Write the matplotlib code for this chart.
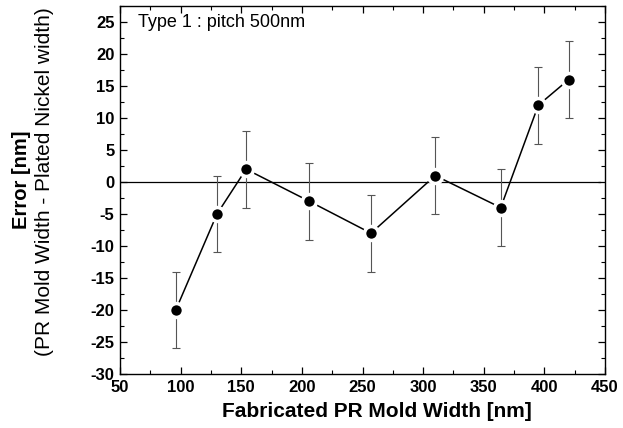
import numpy as np
import matplotlib
matplotlib.use("Agg")
import matplotlib.pyplot as plt
from matplotlib.ticker import MultipleLocator

plt.rcParams['font.family'] = ['Liberation Sans', 'DejaVu Sans']
plt.rcParams['axes.unicode_minus'] = False

width = [96, 130, 154, 206, 257, 310, 364, 395, 420]
error = [-20, -5, 2, -3, -8, 1, -4, 12, 16]
err_bar = [6, 6, 6, 6, 6, 6, 6, 6, 6]

fig = plt.figure(figsize=(6.23, 4.28), dpi=100)
ax = fig.add_axes([120/623, 1-374/428, 485/623, 368/428])

ax.axhline(0, color="black", lw=0.9, xmin=0, xmax=0.99)
ax.errorbar(width, error, yerr=err_bar, fmt="none", ecolor="#555555",
            elinewidth=0.8, capsize=3, capthick=0.8, ls=":")
ax.plot(width, error, color="black", lw=1.1, marker="o", ms=10,
        mfc="black", mec="white", mew=2.5)

ax.set_xlim(50, 450)
ax.set_ylim(-30, 27.5)
ax.xaxis.set_major_locator(MultipleLocator(50))
ax.xaxis.set_minor_locator(MultipleLocator(25))
ax.yaxis.set_major_locator(MultipleLocator(5))
ax.yaxis.set_minor_locator(MultipleLocator(2.5))
ax.tick_params(which="both", direction="in", top=True, right=True,
               labeltop=False, labelright=False)
ax.tick_params(which="major", length=5, width=0.9, pad=4)
ax.tick_params(which="minor", length=3, width=0.8)
for lab in ax.get_xticklabels() + ax.get_yticklabels():
    lab.set_fontweight("bold")
    lab.set_fontsize(12)

ax.set_xlabel("Fabricated PR Mold Width [nm]", fontsize=15, fontweight="bold")
ax.xaxis.set_label_coords(0.53, -0.075)
fig.text(22/623, 1-180/428, "Error [nm]", rotation=90, fontsize=14.5,
         fontweight="bold", ha="center", va="center")
fig.text(45/623, 1-182/428, "(PR Mold Width - Plated Nickel width)", rotation=90,
         fontsize=15, ha="center", va="center")
ax.text(0.037, 0.978, "Type 1 : pitch 500nm", transform=ax.transAxes,
        fontsize=13, ha="left", va="top")

for s in ax.spines.values():
    s.set_linewidth(1.0)

fig.savefig("out.png", dpi=100)
